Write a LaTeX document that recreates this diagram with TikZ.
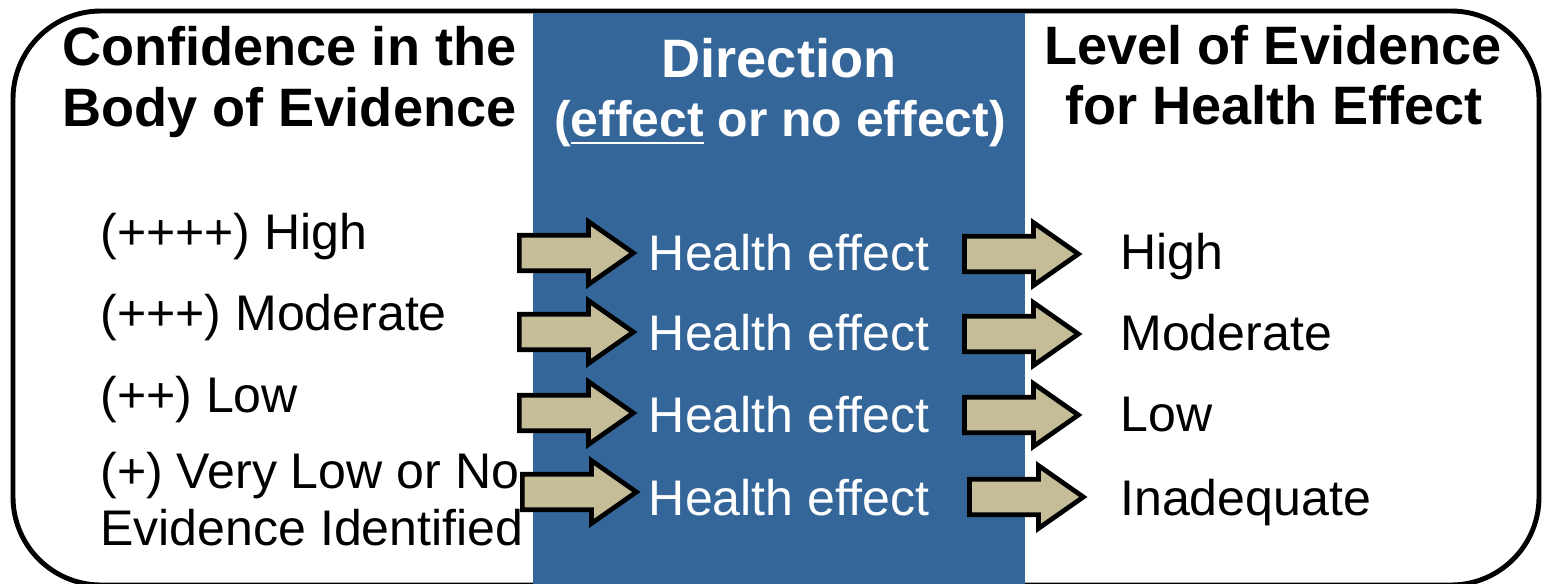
\documentclass[tikz,border=0pt]{standalone}
\usepackage{fontspec}
\setmainfont{Liberation Sans}
\usetikzlibrary{shapes.arrows}
\definecolor{dirblue}{RGB}{52,102,153}
\definecolor{arrowtan}{RGB}{196,189,151}
\newcommand\ulword[1]{\setbox0\hbox{#1}\rlap{\rule[-4.2pt]{\wd0}{1.6pt}}#1}

\begin{document}
\begin{tikzpicture}[x=0.02cm,y=-0.02cm,
    head/.style={font=\fontsize{30.8}{34.7}\selectfont\bfseries, inner sep=0},
    item/.style={font=\fontsize{28.5}{32}\selectfont, inner sep=0, anchor=base west},
    effect/.style={item, anchor=base, text=white},
    blockarrow/.style={single arrow, draw=black, line width=2.7pt, fill=arrowtan,
      inner xsep=0, inner ysep=0.31cm, minimum height=2.28cm, minimum width=1.16cm,
      single arrow head extend=0.27cm, single arrow tip angle=70,
      single arrow head indent=0, anchor=tail}]
  \useasboundingbox (0,0) rectangle (1546,584);
  % Rahmen
  \draw[line width=2.8pt, rounded corners=1.76cm] (13,11) rectangle (1539,585);
  \fill[dirblue] (533,13) rectangle (1025,584);
  % Rubriker
  \node[head, anchor=base west] (hconf1) at (62,66) {Confidence in the};
  \node[head, anchor=base west] (hconf2) at (62,127) {Body of Evidence};
  \node[head, anchor=base, text=white] (hdir1) at (779,78) {Direction};
  \node[head, anchor=base, text=white, font=\fontsize{28.4}{32}\selectfont\bfseries]
    (hdir2) at (780,137) {(\ulword{effect} or no effect)};
  \node[head, anchor=base] (hlev1) at (1273,65) {Level of Evidence};
  \node[head, anchor=base] (hlev2) at (1274,125) {for Health Effect};
  % Vänster kolumn
  \node[item] (grade1) at (100,250) {(++++) High};
  \node[item] (grade2) at (100,331) {(+++) Moderate};
  \node[item] (grade3) at (100,413) {(++) Low};
  \node[item] (grade4) at (100,488) {(+) Very Low or No};
  \node[item] (grade4b) at (100,545) {Evidence Identified};
  % Mitten och höger kolumn
  \foreach \i/\y in {1/271,2/351,3/433,4/515}
    \node[effect] (eff\i) at (789,\y) {Health effect};
  \foreach \i/\y/\txt in {1/270/High,2/351/Moderate,3/432/Low,4/515/Inadequate}
    \node[item] (lev\i) at (1120,\y) {\txt};
  % Pilar
  \foreach \i/\xa/\ya/\xb/\yb in {1/517/253/962/254, 2/517/332/962/334,
                                  3/517/413/962/415, 4/520/492/967/497} {
    \node[blockarrow] (inarr\i) at (\xa,\ya) {};
    \node[blockarrow] (outarr\i) at (\xb,\yb) {};
  }
\end{tikzpicture}
\end{document}
